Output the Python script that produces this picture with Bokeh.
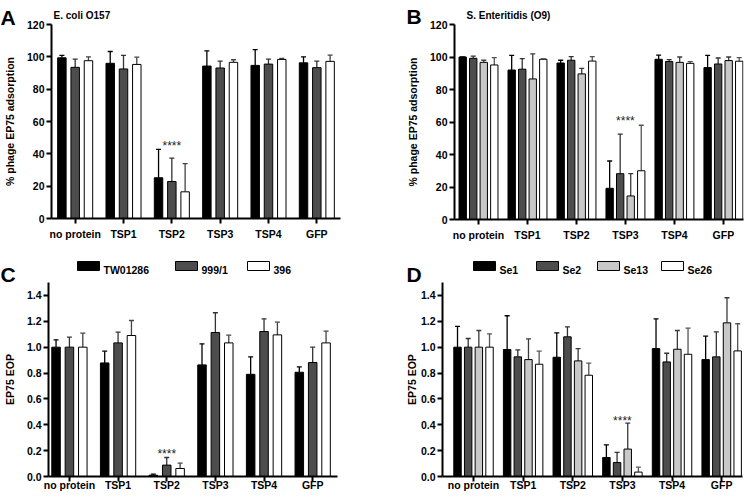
from bokeh.plotting import figure
from bokeh.layouts import column
from bokeh.models import (Range1d, FixedTicker, GridBox,
                          ColumnDataSource, NumeralTickFormatter, Whisker, TeeHead)
from bokeh.core.properties import value
from bokeh.embed import file_html
from bokeh.resources import INLINE

FONT = "Liberation Sans"

categories = ["no protein", "TSP1", "TSP2", "TSP3", "TSP4", "GFP"]

# ---- Panel A: E. coli O157, % phage EP75 adsorption ----
a_title = "E. coli O157"
a_strains = ["TW01286", "999/1", "396"]
a_tw01286 = [99.4, 96.0, 25.2, 94.3, 94.7, 96.3]
a_tw01286_sd = [1.5, 7.3, 17.6, 9.4, 9.8, 3.7]
a_999_1 = [93.5, 92.5, 22.9, 93.1, 95.5, 93.3]
a_999_1_sd = [5.1, 8.4, 14.5, 4.3, 3.1, 4.1]
a_396 = [97.6, 95.3, 16.5, 96.6, 98.4, 97.2]
a_396_sd = [2.4, 4.5, 17.4, 1.6, 0.6, 3.8]
a_sig_cat, a_sig_y = "TSP2", 45.0

# ---- Panel B: S. Enteritidis (O9), % phage EP75 adsorption ----
b_title = "S. Enteritidis (O9)"
b_strains = ["Se1", "Se2", "Se13", "Se26"]
b_se1 = [100.0, 92.0, 96.3, 19.2, 98.6, 93.5]
b_se1_sd = [0.0, 9.0, 1.7, 16.8, 2.6, 7.5]
b_se2 = [99.2, 92.5, 98.0, 28.2, 97.2, 95.7]
b_se2_sd = [1.4, 6.5, 2.2, 24.4, 1.2, 3.7]
b_se13 = [96.7, 86.5, 89.6, 14.5, 96.7, 97.8]
b_se13_sd = [1.3, 15.4, 3.4, 13.7, 3.3, 2.2]
b_se26 = [95.1, 98.6, 97.5, 30.0, 96.1, 97.4]
b_se26_sd = [4.5, 0.2, 2.7, 28.0, 1.1, 2.2]
b_sig_cat, b_sig_y = "TSP3", 60.5

# ---- Panel C: E. coli strains, EP75 EOP ----
c_tw01286 = [1.0, 0.878, 0.010, 0.863, 0.790, 0.806]
c_tw01286_sd = [0.057, 0.091, 0.008, 0.163, 0.135, 0.041]
c_999_1 = [1.0, 1.033, 0.088, 1.113, 1.121, 0.881]
c_999_1_sd = [0.077, 0.083, 0.059, 0.153, 0.098, 0.119]
c_396 = [1.0, 1.090, 0.062, 1.033, 1.095, 1.033]
c_396_sd = [0.108, 0.116, 0.041, 0.060, 0.098, 0.091]
c_sig_cat, c_sig_y = "TSP2", 0.177

# ---- Panel D: Salmonella strains, EP75 EOP ----
d_se1 = [1.0, 0.982, 0.922, 0.147, 0.989, 0.904]
d_se1_sd = [0.160, 0.261, 0.189, 0.098, 0.230, 0.181]
d_se2 = [1.0, 0.925, 1.080, 0.108, 0.886, 0.925]
d_se2_sd = [0.067, 0.054, 0.077, 0.078, 0.067, 0.194]
d_se13 = [1.0, 0.904, 0.894, 0.212, 0.984, 1.188]
d_se13_sd = [0.129, 0.160, 0.095, 0.201, 0.145, 0.194]
d_se26 = [1.0, 0.868, 0.783, 0.034, 0.945, 0.971]
d_se26_sd = [0.103, 0.101, 0.093, 0.038, 0.202, 0.210]
d_sig_cat, d_sig_y = "TSP3", 0.432

pct_ticks = [0, 20, 40, 60, 80, 100, 120]
eop_ticks = [0.0, 0.2, 0.4, 0.6, 0.8, 1.0, 1.2, 1.4]

panel_letters = ["A", "B", "C", "D"]

fills3 = ["#000000", "#4d4d4d", "#ffffff"]
whisk3 = ["#000000", "#333333", "#444444"]
fills4 = ["#000000", "#4d4d4d", "#c8c8c8", "#ffffff"]
whisk4 = ["#000000", "#333333", "#3a3a3a", "#555555"]

W, H = 748, 498
PW, PH = W // 2, H // 2


def make_panel(means, sds, fills, whisk, step, bw, xr, yr, yticks, yfmt,
               border, ylab, ylab_std, xlab_std, sig_cat, sig_y):
    L, R, T, B = border
    p = figure(width=PW, height=PH, x_range=Range1d(*xr), y_range=Range1d(*yr),
               output_backend="svg", toolbar_location=None,
               min_border_left=L, min_border_right=R,
               min_border_top=T, min_border_bottom=B)
    p.outline_line_color = None
    p.grid.visible = False
    n = len(means)
    for i, (m, s) in enumerate(zip(means, sds)):
        off = (i - (n - 1) / 2) * step
        xs = [k + off for k in range(len(categories))]
        src = ColumnDataSource(dict(x=xs, top=m, upper=[a + b for a, b in zip(m, s)]))
        p.vbar(x="x", top="top", bottom=0, width=bw, source=src,
               fill_color=fills[i], line_color="black", line_width=1)
        w = Whisker(source=src, base="x", upper="upper", lower="top",
                    line_color=whisk[i], line_width=1.3,
                    upper_head=TeeHead(size=5, line_color=whisk[i], line_width=1.3),
                    lower_head=None)
        p.add_layout(w)

    for ax in (p.xaxis[0], p.yaxis[0]):
        ax.axis_line_width = 2
        ax.axis_line_color = "black"
        ax.major_tick_line_width = 2
        ax.major_tick_out = 5
        ax.major_tick_in = 0
        ax.minor_tick_out = 0
        ax.minor_tick_in = 0
        ax.major_label_text_font = FONT
        ax.major_label_text_font_style = "bold"
        ax.major_label_text_font_size = "10.5px"
        ax.major_label_text_color = "black"
    p.xaxis.ticker = FixedTicker(ticks=list(range(len(categories))), minor_ticks=[])
    p.xaxis.major_label_overrides = {i: c for i, c in enumerate(categories)}
    p.xaxis.major_label_standoff = xlab_std
    p.yaxis.ticker = FixedTicker(ticks=yticks, minor_ticks=[])
    p.yaxis.formatter = NumeralTickFormatter(format=yfmt)
    p.yaxis.major_label_standoff = 2
    p.yaxis.axis_label = ylab
    p.yaxis.axis_label_standoff = ylab_std
    p.yaxis.axis_label_text_font = FONT
    p.yaxis.axis_label_text_font_style = "bold"
    p.yaxis.axis_label_text_font_size = "10.5px"
    p.yaxis.axis_label_text_color = "black"

    p.text(x=[categories.index(sig_cat)], y=[sig_y], text=["****"],
           text_align="center", text_baseline="middle",
           text_font=value(FONT), text_font_size="12px", text_color="#222222")
    return p


pA = make_panel([a_tw01286, a_999_1, a_396], [a_tw01286_sd, a_999_1_sd, a_396_sd],
                fills3, whisk3, 0.275, 0.175, (-0.49, 5.49), (0, 120), pct_ticks, "0",
                (47, 34, 24, 31), "% phage EP75 adsorption", 8, 4, a_sig_cat, a_sig_y)
pB = make_panel([b_se1, b_se2, b_se13, b_se26], [b_se1_sd, b_se2_sd, b_se13_sd, b_se26_sd],
                fills4, whisk4, 0.215, 0.15, (-0.49, 5.41), (0, 120), pct_ticks, "0",
                (80, 5, 24, 30), "% phage EP75 adsorption", 8, 4, b_sig_cat, b_sig_y)
pC = make_panel([c_tw01286, c_999_1, c_396], [c_tw01286_sd, c_999_1_sd, c_396_sd],
                fills3, whisk3, 0.275, 0.175, (-0.43, 5.51), (0, 1.5), eop_ticks, "0.0",
                (47, 37, 33, 22), "EP75 EOP", 8, -3, c_sig_cat, c_sig_y)
pD = make_panel([d_se1, d_se2, d_se13, d_se26], [d_se1_sd, d_se2_sd, d_se13_sd, d_se26_sd],
                fills4, whisk4, 0.215, 0.15, (-0.625, 5.42), (0, 1.5), eop_ticks, "0.0",
                (68, 6, 33, 22), "EP75 EOP", 0, -3, d_sig_cat, d_sig_y)

# ---- transparent overlay in page pixel coordinates: panel letters, titles, legends ----
ov = figure(width=W, height=H, x_range=Range1d(0, W), y_range=Range1d(H, 0),
            output_backend="svg", toolbar_location=None,
            x_axis_type=None, y_axis_type=None, min_border=0,
            background_fill_color=None, border_fill_color=None, outline_line_color=None)

letter_x = [0, 406, 0, 406]
letter_y = [16.7, 16.3, 274, 274]
ov.text(x=letter_x, y=letter_y, text=panel_letters,
        text_font=value(FONT), text_font_style="bold", text_font_size="21px",
        text_baseline="alphabetic", text_color="black")

title_x = [53, 466]
title_y = [15, 15]
ov.text(x=title_x, y=title_y, text=[a_title, b_title],
        text_font=value(FONT), text_font_style="bold", text_font_size="10px",
        text_baseline="alphabetic", text_color="black")

# legend keys (layout positions in page pixels)
leg_c_left = [77, 175, 247]
leg_d_left = [473, 536, 597, 661]
key_w, key_h, key_cy, key_gap = 22, 9, 265.5, 4


def legend_row(names, fills, lefts):
    ov.quad(left=lefts, right=[x + key_w for x in lefts],
            top=[key_cy - key_h / 2] * len(lefts), bottom=[key_cy + key_h / 2] * len(lefts),
            fill_color=fills, line_color="black", line_width=1)
    ov.text(x=[x + key_w + key_gap for x in lefts], y=[key_cy + 3.8] * len(lefts),
            text=names, text_font=value(FONT), text_font_style="bold",
            text_font_size="10.5px", text_baseline="alphabetic", text_color="black")


legend_row(a_strains, fills3, leg_c_left)
legend_row(b_strains, fills4, leg_d_left)

grid = GridBox(children=[(column(pA), 0, 0), (column(pB), 0, 1),
                         (column(pC), 1, 0), (column(pD), 1, 1),
                         (ov, 0, 0, 2, 2)], spacing=0)

open("out.html", "w").write(file_html(grid, INLINE))
